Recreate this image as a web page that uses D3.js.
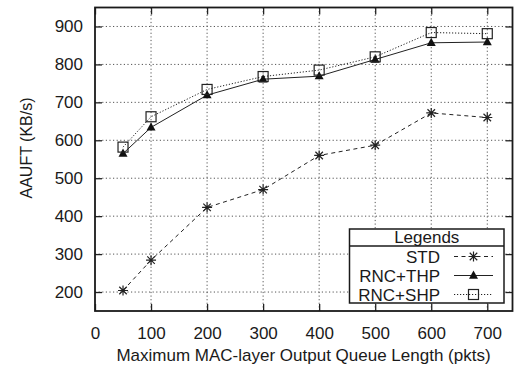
<!DOCTYPE html>
<meta charset="utf-8">
<script src="https://d3js.org/d3.v7.min.js"></script>
<style>
body { margin: 0; background: #fff; }
text { font-family: "Liberation Sans", Arial, sans-serif; fill: #1a1a1a; }
</style>
<div id="chart"></div>
<script>
// data
var queueLen = [50, 100, 200, 300, 400, 500, 600, 700];
var std = [204, 284, 423, 470, 560, 587, 672, 660];
var rncThp = [565, 634, 719, 761, 769, 813, 857, 859];
var rncShp = [582, 662, 734, 768, 785, 820, 884, 881];
var xTicks = [0, 100, 200, 300, 400, 500, 600, 700];
var yTicks = [200, 300, 400, 500, 600, 700, 800, 900];
var seriesNames = ["STD", "RNC+THP", "RNC+SHP"];

var W = 517, H = 365;
var margin = {top: 7.5, right: 4.5, bottom: 54, left: 95};
var width = W - margin.left - margin.right,
    height = H - margin.top - margin.bottom;
var fs = "17px";

var svg = d3.select("#chart").append("svg")
  .attr("width", W).attr("height", H);
var g = svg.append("g")
  .attr("transform", "translate(" + margin.left + "," + margin.top + ")");

var x = d3.scaleLinear().domain([0, 745]).range([0, width]);
var y = d3.scaleLinear().domain([150, 950]).range([height, 0]);

// grid
g.append("g").selectAll("line").data(xTicks.slice(1)).enter().append("line")
  .attr("x1", d => x(d)).attr("x2", d => x(d))
  .attr("y1", 0).attr("y2", height)
  .attr("stroke", "#555").attr("stroke-width", 1)
  .attr("stroke-dasharray", "1.2,2.4");
g.append("g").selectAll("line").data(yTicks).enter().append("line")
  .attr("y1", d => y(d)).attr("y2", d => y(d))
  .attr("x1", 0).attr("x2", width)
  .attr("stroke", "#555").attr("stroke-width", 1)
  .attr("stroke-dasharray", "1.2,2.4");

// axes, ticks pointing inwards
var tk = 7;
g.append("g").attr("transform", "translate(0," + height + ")")
  .call(d3.axisBottom(x).tickValues(xTicks).tickSize(-tk).tickPadding(16));
g.append("g")
  .call(d3.axisLeft(y).tickValues(yTicks).tickSize(-tk).tickPadding(12));
g.append("g").call(d3.axisTop(x).tickValues(xTicks).tickSize(-tk).tickFormat(""));
g.append("g").attr("transform", "translate(" + width + ",0)")
  .call(d3.axisRight(y).tickValues(yTicks).tickSize(-tk).tickFormat(""));
g.selectAll(".domain").remove();
g.selectAll(".tick line").attr("stroke", "#222").attr("stroke-width", 1.3);
g.selectAll(".tick text").style("font-size", fs)
  .style("font-family", "'Liberation Sans', Arial, sans-serif").attr("fill", "#1a1a1a");

g.append("rect").attr("width", width).attr("height", height)
  .attr("fill", "none").attr("stroke", "#1a1a1a").attr("stroke-width", 1.8);

// axis titles
svg.append("text")
  .attr("x", 303.5).attr("y", 360.5)
  .attr("text-anchor", "middle").style("font-size", fs)
  .text("Maximum MAC-layer Output Queue Length (pkts)");
svg.append("text")
  .attr("transform", "translate(32,148) rotate(-90)")
  .attr("text-anchor", "middle").style("font-size", "16px")
  .text("AAUFT (KB/s)");

// markers
function drawMarker(sel, type) {
  if (type === 0) {
    var r = 5;
    sel.append("path")
      .attr("d", "M" + (-r) + ",0H" + r + "M0," + (-r) + "V" + r +
                 "M" + (-r * 0.75) + "," + (-r * 0.75) + "L" + (r * 0.75) + "," + (r * 0.75) +
                 "M" + (-r * 0.75) + "," + (r * 0.75) + "L" + (r * 0.75) + "," + (-r * 0.75))
      .attr("stroke", "#222").attr("stroke-width", 1.2).attr("fill", "none");
  } else if (type === 1) {
    sel.append("path").attr("d", "M0,-5L4.5,3.2L-4.5,3.2Z").attr("fill", "#111");
  } else {
    sel.append("rect").attr("x", -5).attr("y", -5).attr("width", 10).attr("height", 10)
      .attr("fill", "none").attr("stroke", "#222").attr("stroke-width", 1.2);
  }
}

var series = [std, rncThp, rncShp];
var dashes = ["4,3.5", null, "1.2,1.8"];
var line = d3.line().x(d => x(d[0])).y(d => y(d[1]));

series.forEach(function (vals, i) {
  var pts = queueLen.map((q, j) => [q, vals[j]]);
  g.append("path").datum(pts).attr("d", line)
    .attr("fill", "none").attr("stroke", "#222").attr("stroke-width", 1)
    .attr("stroke-dasharray", dashes[i]);
  g.append("g").selectAll("g").data(pts).enter().append("g")
    .attr("transform", d => "translate(" + x(d[0]) + "," + y(d[1]) + ")")
    .each(function () { drawMarker(d3.select(this), i); });
});

// legend
var lx = 349.5, ly = 229, lw = 154.5, lh = 74;
var leg = svg.append("g");
leg.append("rect").attr("x", lx).attr("y", ly).attr("width", lw).attr("height", lh)
  .attr("fill", "#fff").attr("stroke", "#1a1a1a").attr("stroke-width", 1.5);
leg.append("line").attr("x1", lx).attr("x2", lx + lw).attr("y1", 246).attr("y2", 246)
  .attr("stroke", "#1a1a1a").attr("stroke-width", 1.5);
leg.append("text").attr("x", lx + lw / 2).attr("y", 243)
  .attr("text-anchor", "middle").style("font-size", fs).text("Legends");
seriesNames.forEach(function (name, i) {
  var cy = 256.5 + i * 19;
  leg.append("text").attr("x", 440).attr("y", cy + 6)
    .attr("text-anchor", "end").style("font-size", fs).text(name);
  leg.append("line").attr("x1", 454).attr("x2", 493).attr("y1", cy).attr("y2", cy)
    .attr("stroke", "#222").attr("stroke-width", 1).attr("stroke-dasharray", dashes[i]);
  var m = leg.append("g").attr("transform", "translate(473.5," + cy + ")");
  drawMarker(m, i);
});
</script>
